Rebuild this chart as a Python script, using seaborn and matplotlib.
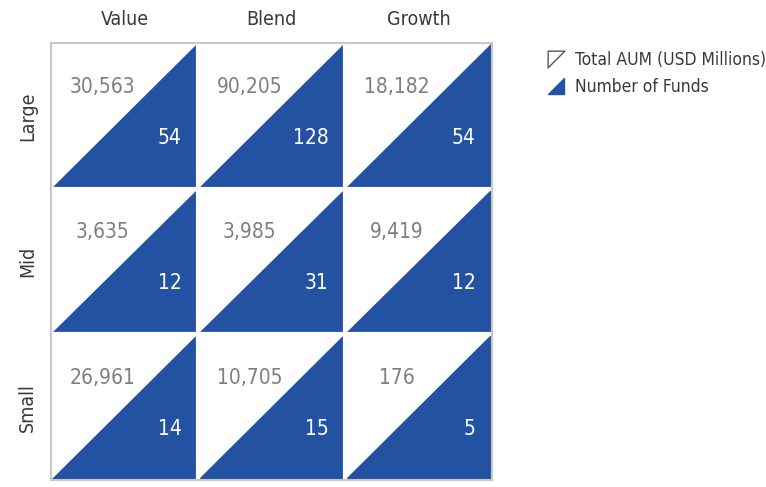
import pandas as pd
import matplotlib
matplotlib.use('Agg')
import matplotlib.pyplot as plt
from matplotlib.colors import ListedColormap
from matplotlib.patches import Polygon
from matplotlib.path import Path
from matplotlib.lines import Line2D
import seaborn as sns

# Data
size_rows = ['Large', 'Mid', 'Small']
style_cols = ['Value', 'Blend', 'Growth']
total_aum = [[30563, 90205, 18182],
             [3635, 3985, 9419],
             [26961, 10705, 176]]
num_funds = [[54, 128, 54],
             [12, 31, 12],
             [14, 15, 5]]

BLUE = '#2352a3'
GREY_TXT = '#7f7f7f'
DARK_TXT = '#3a3a3a'

sns.set_style('white')
plt.rcParams['font.family'] = ['DejaVu Sans']
plt.rcParams['font.stretch'] = 'condensed'

fig = plt.figure(figsize=(7.66, 4.87), dpi=100)
ax = fig.add_axes([51 / 766, 7 / 487, 441 / 766, 437 / 487])

df = pd.DataFrame(0, index=size_rows, columns=style_cols)
sns.heatmap(df, ax=ax, cmap=ListedColormap(['white']), cbar=False,
            linewidths=0, annot=False)

for i, row in enumerate(size_rows):
    for j, col in enumerate(style_cols):
        tri = Polygon([(j, i + 1), (j + 1, i + 1), (j + 1, i)], closed=True,
                      facecolor=BLUE, edgecolor='none', zorder=2)
        ax.add_patch(tri)
        ax.text(j + 0.35, i + 0.3, f'{total_aum[i][j]:,}', ha='center', va='center',
                fontsize=15, color=GREY_TXT, zorder=3)
        ax.text(j + 0.89, i + 0.65, f'{num_funds[i][j]}', ha='right', va='center',
                fontsize=15, color='white', zorder=3)

# white separators between cells
for k in [1, 2]:
    ax.axvline(k, color='white', lw=3, zorder=4)
    ax.axhline(k, color='white', lw=3, zorder=4)

# outer frame
for s in ax.spines.values():
    s.set_visible(True)
    s.set_color('#c8c8c8')
    s.set_linewidth(1.5)
    s.set_zorder(5)

ax.xaxis.tick_top()
ax.tick_params(length=0, pad=10)
ax.set_xticklabels(style_cols, fontsize=14, color=DARK_TXT)
ax.set_yticklabels(size_rows, fontsize=14, color=DARK_TXT, rotation=90, va='center')
ax.set_xlabel('')
ax.set_ylabel('')

# legend
aum_marker = Path([(-1, 1), (1, 1), (-1, -1), (-1, 1)],
                  [Path.MOVETO, Path.LINETO, Path.LINETO, Path.CLOSEPOLY])
fund_marker = Path([(-1, -1), (1, -1), (1, 1), (-1, -1)],
                   [Path.MOVETO, Path.LINETO, Path.LINETO, Path.CLOSEPOLY])
handles = [
    Line2D([], [], linestyle='none', marker=aum_marker, markersize=12,
           markerfacecolor='white', markeredgecolor='#555555', markeredgewidth=1),
    Line2D([], [], linestyle='none', marker=fund_marker, markersize=12,
           markerfacecolor=BLUE, markeredgecolor=BLUE),
]
fig.legend(handles, ['Total AUM (USD Millions)', 'Number of Funds'],
           loc='upper left', bbox_to_anchor=(532 / 766, 1 - 35 / 487),
           frameon=False, fontsize=12.5, handlelength=1.0, handletextpad=0.6,
           labelspacing=0.55, labelcolor=DARK_TXT)

fig.savefig('out.png', dpi=100)
